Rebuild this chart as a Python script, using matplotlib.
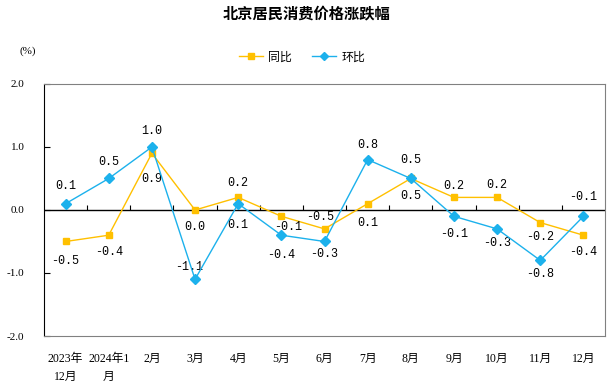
import matplotlib.pyplot as plt
import numpy as np

plt.rcParams["font.family"] = ["Noto Sans CJK SC", "DejaVu Sans"]

months = ["2023年\n12月", "2024年1\n月", "2月", "3月", "4月", "5月", "6月",
          "7月", "8月", "9月", "10月", "11月", "12月"]
yoy = [-0.5, -0.4, 0.9, 0.0, 0.2, -0.1, -0.3, 0.1, 0.5, 0.2, 0.2, -0.2, -0.4]
mom = [0.1, 0.5, 1.0, -1.1, 0.1, -0.4, -0.5, 0.8, 0.5, -0.1, -0.3, -0.8, -0.1]

# label placement (pixels, +down)
yoy_off = [(0, 19), (0, 17), (0, 26), (0, 17), (0, -14), (7, 11), (0, 25),
           (0, 19), (0, 18), (0, -11), (0, -12), (0, 14), (0, 17)]
mom_off = [(0, -18), (0, -16), (0, -16), (-6, -12), (0, 21), (0, 20), (-4, -24),
           (0, -15), (0, -18), (0, 18), (0, 14), (0, 14), (0, -19)]

YELLOW = "#FFC000"
BLUE = "#1CB1EC"
PX = 0.72  # points per pixel at dpi 100

fig = plt.figure(figsize=(6.15, 3.92), dpi=100)
ax = fig.add_axes([44 / 615, 56 / 392, 561 / 615, 252 / 392])

x = np.arange(len(months))
ax.plot(x, yoy, color=YELLOW, lw=1, marker="s", ms=5, label="同比", zorder=3)
ax.plot(x, mom, color=BLUE, lw=1, marker="D", ms=5, label="环比", zorder=4)

ax.set_xlim(-0.5, len(months) - 0.5)
ax.set_ylim(-2, 2)

# zero line with small ticks at category boundaries
ax.axhline(0, color="black", lw=1, zorder=2)
ax.vlines(x[:-1] + 0.5, 0, 0.08, color="black", lw=0.8)

# value labels
for vals, offs in [(yoy, yoy_off), (mom, mom_off)]:
    for i, v in enumerate(vals):
        dx, dy = offs[i]
        ax.annotate(f"{v:.1f}", (i, v), xytext=(dx * PX, -dy * PX),
                    textcoords="offset points", ha="center", va="center",
                    fontsize=8.5, family="Liberation Mono")

ax.set_yticks([-2, -1, 0, 1, 2])
ax.set_yticklabels(["-2.0", "-1.0", "0.0", "1.0", "2.0"],
                   family="Liberation Serif", fontsize=8)
ax.tick_params(axis="y", direction="in", length=4, pad=14, color="black")

ax.set_xticks(x)
ax.set_xticklabels(months, fontsize=8.5, linespacing=1.65,
                   family=["Liberation Serif", "Noto Sans CJK SC"])
ax.tick_params(axis="x", length=0, pad=12)

for side in ["top", "right", "bottom"]:
    ax.spines[side].set_color("#808080")
ax.spines["left"].set_color("black")

fig.text(307 / 615, 1 - 13 / 392, "北京居民消费价格涨跌幅", ha="center",
         va="center", fontsize=11, weight="bold")
fig.text(28 / 615, 1 - 51 / 392, "(%)", ha="center", va="center", fontsize=8,
         family="Liberation Serif")
fig.legend(loc="center", bbox_to_anchor=(302 / 615, 1 - 57 / 392), ncol=2,
           frameon=False, fontsize=8.6, handlelength=2.0, columnspacing=1.75,
           handletextpad=0.4, markerscale=0.9)

fig.savefig("out.png", dpi=100)
